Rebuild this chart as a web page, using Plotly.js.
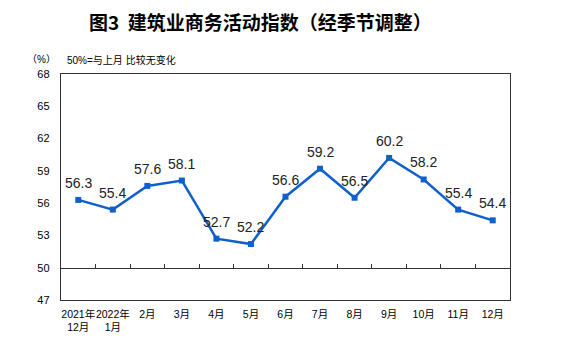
<!DOCTYPE html>
<html><head><meta charset="utf-8">
<script src="https://cdn.plot.ly/plotly-3.0.1.min.js"></script>
<style>body{margin:0;background:#fff}#c{width:585px;height:354px}</style>
</head><body><div id="c"></div>
<script>
const categories = ["2021年<br>12月","2022年<br>1月","2月","3月","4月","5月","6月","7月","8月","9月","10月","11月","12月"];
const values = [56.3,55.4,57.6,58.1,52.7,52.2,56.6,59.2,56.5,60.2,58.2,55.4,54.4];
const yTicks = [47,50,53,56,59,62,65,68];

const xIdx = categories.map((_, i) => i);
const boundaries = categories.slice(1).map((_, i) => i + 0.5);
const cjk = '"Liberation Sans", "Noto Sans CJK SC", sans-serif';

const trace = {
  x: xIdx, y: values, type: 'scatter', mode: 'lines+markers',
  line: {color: '#1060cc', width: 2.5},
  marker: {symbol: 'square', size: 6, color: '#1060cc'},
  cliponaxis: false, hoverinfo: 'skip', showlegend: false
};
const dummy = {x: [0], y: [50], xaxis: 'x2', yaxis: 'y', mode: 'none', showlegend: false, hoverinfo: 'skip'};

const labelAnn = values.map((v, i) => ({
  x: i, y: v, xref: 'x', yref: 'y', text: v.toFixed(1), showarrow: false,
  yshift: 17, xanchor: 'center', yanchor: 'middle',
  font: {family: '"Liberation Sans", Arial, sans-serif', size: 14, color: '#222'}
}));

const layout = {
  width: 585, height: 354,
  margin: {l: 61, r: 75, t: 74, b: 54},
  paper_bgcolor: '#fff', plot_bgcolor: '#fff',
  title: {text: '<b>图3  建筑业商务活动指数（经季节调整）</b>', xref: 'container', x: 0.445, xanchor: 'center', yref: 'container', y: 0.935, yanchor: 'middle',
    font: {family: '"Noto Sans CJK SC", sans-serif', size: 19, color: '#000'}},
  xaxis: {range: [-0.5, 12.5], tickmode: 'array', tickvals: xIdx, ticktext: categories, tickangle: 0,
    showgrid: false, zeroline: false, showline: true, mirror: true, linecolor: '#333', linewidth: 1.2,
    ticks: '', ticklabelstandoff: 4, tickfont: {family: cjk, size: 10.5, color: '#000'}, fixedrange: true},
  xaxis2: {range: [-0.5, 12.5], overlaying: 'x', anchor: 'free', position: (50 - 47) / 21,
    tickmode: 'array', tickvals: boundaries, showticklabels: false, ticks: 'inside', ticklen: 4,
    tickcolor: '#333', showline: true, linecolor: '#333', linewidth: 1.2, showgrid: false, zeroline: false},
  yaxis: {range: [47, 68], tickmode: 'array', tickvals: yTicks, ticktext: yTicks.map(String),
    showgrid: false, zeroline: false, showline: true, mirror: true, linecolor: '#333', linewidth: 1.2,
    ticks: '', ticklabelstandoff: 8, tickfont: {family: '"Liberation Sans", Arial, sans-serif', size: 11, color: '#000'}},
  annotations: labelAnn.concat([
    {text: '（%）', xref: 'paper', yref: 'paper', x: -0.08, y: 1.062, xanchor: 'left', yanchor: 'middle', showarrow: false,
      font: {family: cjk, size: 10, color: '#000'}},
    {text: '50%=与上月 比较无变化', xref: 'paper', yref: 'paper', x: 0.008, y: 1.062, xanchor: 'left', yanchor: 'middle', showarrow: false,
      font: {family: cjk, size: 10, color: '#000'}}
  ])
};
Plotly.newPlot('c', [trace, dummy], layout, {staticPlot: true});
</script></body></html>
